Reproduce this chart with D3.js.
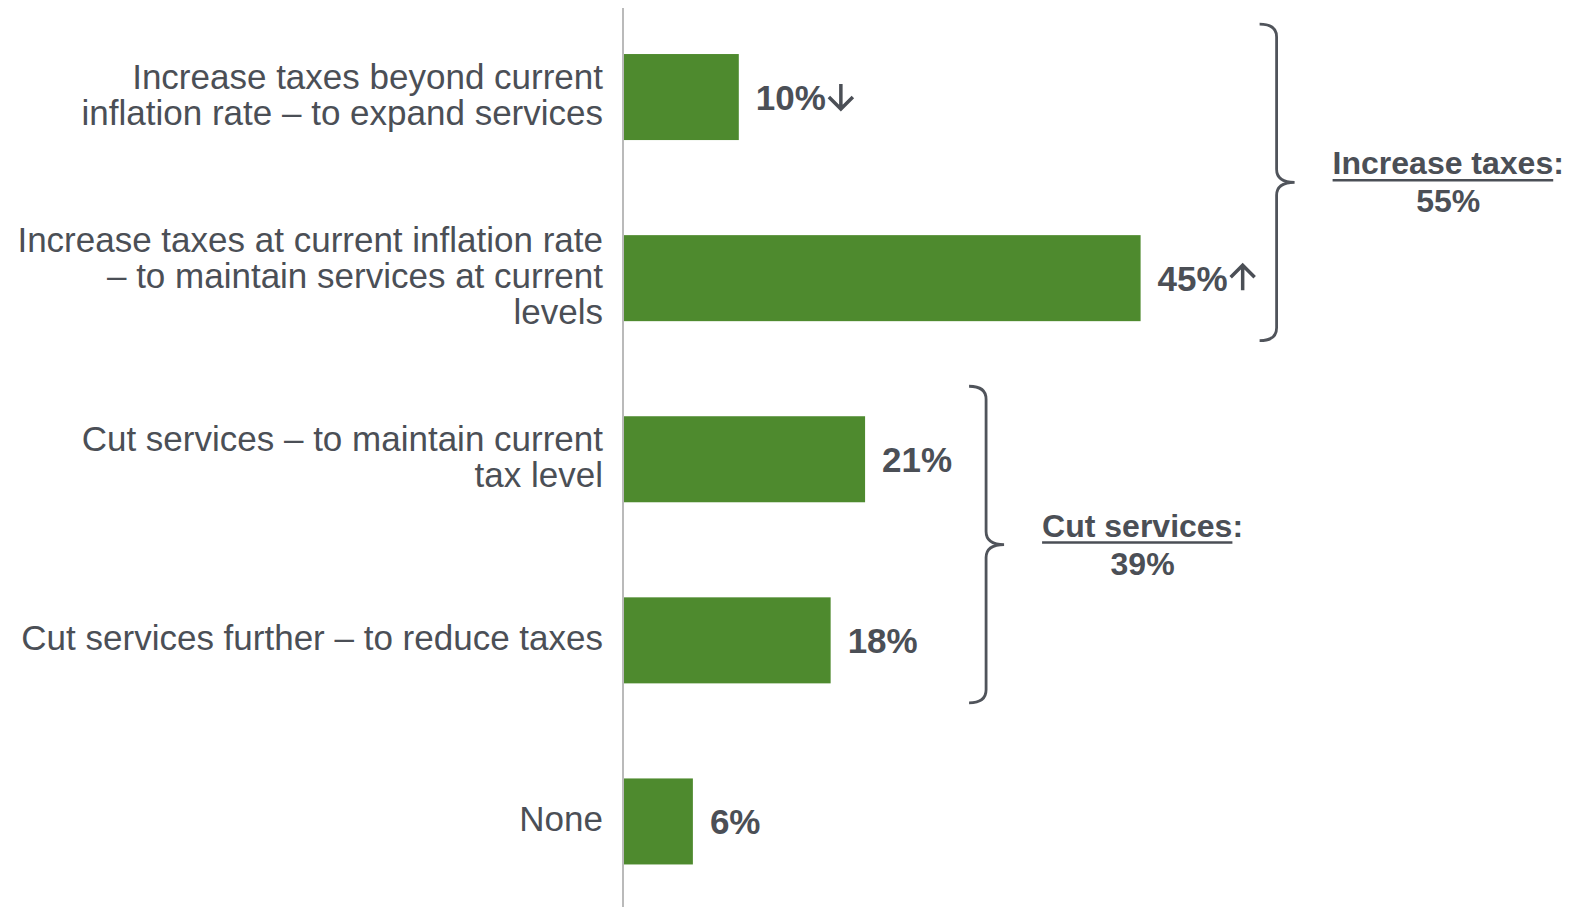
<!DOCTYPE html>
<html>
<head>
<meta charset="utf-8">
<script src="https://cdn.jsdelivr.net/npm/d3@7"></script>
<style>
	html, body { margin: 0; padding: 0; background: #fff; }
	svg { display: block; font-family: "Liberation Sans", Arial, sans-serif; }
</style>
</head>
<body>
<div id="chart"></div>
<script>
// category labels, one entry per line
var categories = [
	['Increase taxes beyond current', 'inflation rate – to expand services'],
	['Increase taxes at current inflation rate', '– to maintain services at current', 'levels'],
	['Cut services – to maintain current', 'tax level'],
	['Cut services further – to reduce taxes'],
	['None']
];
var values = [10, 45, 21, 18, 6];
var trend = ['down', 'up', '', '', ''];

var groupNames = ['Increase taxes', 'Cut services'];
var groupTotals = [55, 39];
var groupMembers = [[0, 1], [2, 3]];
// how far right of the longest bar in the group the brace sits
var braceOffset = [119, 104];

var width = 1573,
	height = 910;
var barColor = '#4e8a2e';
var textColor = '#4b4f56';
var catFont = 35,
	lineGap = 36;

var svg = d3.select('#chart').append('svg')
	.attr('width', width)
	.attr('height', height);

var idx = d3.range(values.length);

var xScale = d3.scaleLinear()
	.domain([0, 100])
	.range([624, 1772]);

var yScale = d3.scaleBand()
	.domain(idx)
	.range([6.5, 912])
	.paddingInner(0.525)
	.paddingOuter(0.2625);

var bh = yScale.bandwidth();

// bars
svg.append('g')
	.selectAll('rect')
	.data(idx)
	.enter()
	.append('rect')
	.attr('x', xScale(0))
	.attr('y', d => yScale(d))
	.attr('width', d => xScale(values[d]) - xScale(0))
	.attr('height', bh)
	.attr('fill', barColor);

// vertical axis line
svg.append('line')
	.attr('x1', xScale(0) - 1)
	.attr('x2', xScale(0) - 1)
	.attr('y1', 8)
	.attr('y2', 907)
	.attr('stroke', '#a3a3a3')
	.attr('stroke-width', 1.5);

// category labels
var catText = svg.append('g')
	.selectAll('text')
	.data(idx)
	.enter()
	.append('text')
	.attr('text-anchor', 'end')
	.style('font-size', catFont + 'px')
	.attr('fill', textColor);

catText.each(function (d) {
	let lines = categories[d];
	let cy = yScale(d) + bh / 2;
	let t = d3.select(this);
	lines.forEach((l, i) => {
		t.append('tspan')
			.attr('x', 603)
			.attr('y', cy + (i - (lines.length - 1) / 2) * lineGap + 10)
			.text(l);
	});
});

// value labels + arrows
var valG = svg.append('g');
idx.forEach(d => {
	let x0 = xScale(values[d]) + 17;
	let base = yScale(d) + bh / 2 + 13;
	let t = valG.append('text')
		.attr('x', x0)
		.attr('y', base)
		.style('font-size', '35px')
		.style('font-weight', 'bold')
		.attr('fill', textColor)
		.text(values[d] + '%');
	if (trend[d]) {
		let end = x0 + t.node().getComputedTextLength();
		let cx = end + 15;
		let top = base - 26,
			bot = base - 1;
		let p;
		if (trend[d] == 'down') {
			p = 'M' + cx + ',' + top + 'V' + bot +
				'M' + (cx - 12) + ',' + (bot - 12) + 'L' + cx + ',' + bot + 'L' + (cx + 12) + ',' + (bot - 12);
		} else {
			p = 'M' + cx + ',' + bot + 'V' + top +
				'M' + (cx - 12) + ',' + (top + 12) + 'L' + cx + ',' + top + 'L' + (cx + 12) + ',' + (top + 12);
		}
		valG.append('path')
			.attr('d', p)
			.attr('fill', 'none')
			.attr('stroke', textColor)
			.attr('stroke-width', 3.5);
	}
});

// braces and group totals
groupMembers.forEach((m, g) => {
	let top = yScale(m[0]) - 30;
	let bot = yScale(m[m.length - 1]) + bh + 19.5;
	let mid = (top + bot) / 2;
	let tipX = xScale(d3.max(m, i => values[i])) + braceOffset[g];
	let vx = tipX + 17;
	let px = vx + 18;
	let r = 13;
	let path = 'M' + tipX + ',' + top +
		'Q' + vx + ',' + top + ' ' + vx + ',' + (top + r) +
		'L' + vx + ',' + (mid - r) +
		'Q' + vx + ',' + mid + ' ' + px + ',' + mid +
		'Q' + vx + ',' + mid + ' ' + vx + ',' + (mid + r) +
		'L' + vx + ',' + (bot - r) +
		'Q' + vx + ',' + bot + ' ' + tipX + ',' + bot;
	svg.append('path')
		.attr('d', path)
		.attr('fill', 'none')
		.attr('stroke', '#50545b')
		.attr('stroke-width', 2.8);

	let lx = px + 38;
	let ly = mid - 8;
	let head = svg.append('text')
		.attr('x', lx)
		.attr('y', ly)
		.style('font-size', '32px')
		.style('font-weight', 'bold')
		.attr('fill', textColor)
		.text(groupNames[g] + ':');
	let fullW = head.node().getComputedTextLength();
	let nameW = head.node().getSubStringLength(0, groupNames[g].length);
	svg.append('line')
		.attr('x1', lx)
		.attr('x2', lx + nameW)
		.attr('y1', ly + 6)
		.attr('y2', ly + 6)
		.attr('stroke', textColor)
		.attr('stroke-width', 2.5);
	svg.append('text')
		.attr('x', lx + fullW / 2)
		.attr('y', ly + 38)
		.attr('text-anchor', 'middle')
		.style('font-size', '32px')
		.style('font-weight', 'bold')
		.attr('fill', textColor)
		.text(groupTotals[g] + '%');
});
</script>
</body>
</html>
